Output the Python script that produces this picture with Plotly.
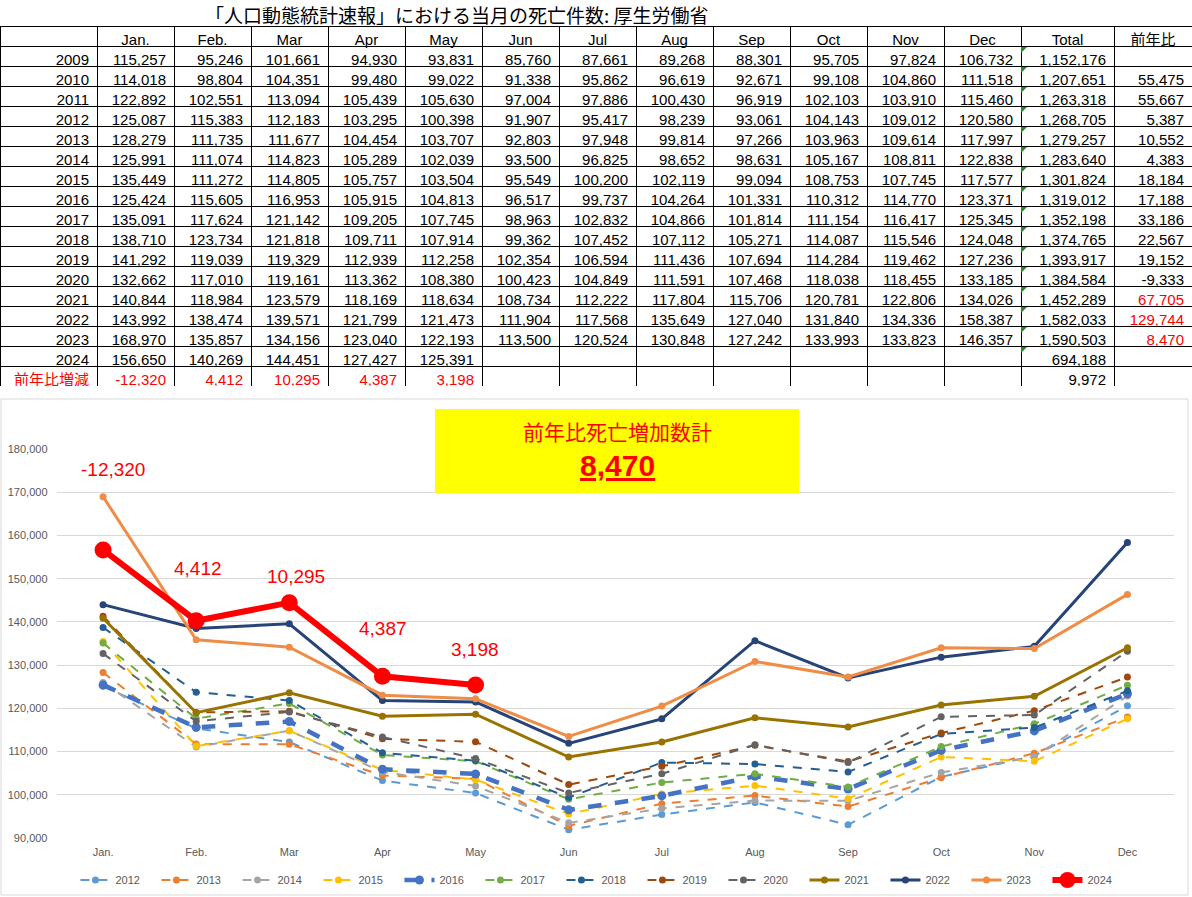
import plotly.graph_objects as go

# monthly deaths, "人口動態統計速報" (厚生労働省)
months = ["Jan.", "Feb.", "Mar", "Apr", "May", "Jun", "Jul", "Aug", "Sep", "Oct", "Nov", "Dec"]
years = list(range(2009, 2025))

d2009 = [115257, 95246, 101661, 94930, 93831, 85760, 87661, 89268, 88301, 95705, 97824, 106732]
d2010 = [114018, 98804, 104351, 99480, 99022, 91338, 95862, 96619, 92671, 99108, 104860, 111518]
d2011 = [122892, 102551, 113094, 105439, 105630, 97004, 97886, 100430, 96919, 102103, 103910, 115460]
d2012 = [125087, 115383, 112183, 103295, 100398, 91907, 95417, 98239, 93061, 104143, 109012, 120580]
d2013 = [128279, 111735, 111677, 104454, 103707, 92803, 97948, 99814, 97266, 103963, 109614, 117997]
d2014 = [125991, 111074, 114823, 105289, 102039, 93500, 96825, 98652, 98631, 105167, 108811, 122838]
d2015 = [135449, 111272, 114805, 105757, 103504, 95549, 100200, 102119, 99094, 108753, 107745, 117577]
d2016 = [125424, 115605, 116953, 105915, 104813, 96517, 99737, 104264, 101331, 110312, 114770, 123371]
d2017 = [135091, 117624, 121142, 109205, 107745, 98963, 102832, 104866, 101814, 111154, 116417, 125345]
d2018 = [138710, 123734, 121818, 109711, 107914, 99362, 107452, 107112, 105271, 114087, 115546, 124048]
d2019 = [141292, 119039, 119329, 112939, 112258, 102354, 106594, 111436, 107694, 114284, 119462, 127236]
d2020 = [132662, 117010, 119161, 113362, 108380, 100423, 104849, 111591, 107468, 118038, 118455, 133185]
d2021 = [140844, 118984, 123579, 118169, 118634, 108734, 112222, 117804, 115706, 120781, 122806, 134026]
d2022 = [143992, 138474, 139571, 121799, 121473, 111904, 117568, 135649, 127040, 131840, 134336, 158387]
d2023 = [168970, 135857, 134156, 123040, 122193, 113500, 120524, 130848, 127242, 133993, 133823, 146357]
d2024 = [156650, 140269, 144451, 127427, 125391]

totals = [1152176, 1207651, 1263318, 1268705, 1279257, 1283640, 1301824, 1319012,
          1352198, 1374765, 1393917, 1384584, 1452289, 1582033, 1590503, 694188]
yoy = [None, 55475, 55667, 5387, 10552, 4383, 18184, 17188,
       33186, 22567, 19152, -9333, 67705, 129744, 8470, None]
diff_2024 = [-12320, 4412, 10295, 4387, 3198]
diff_total = 9972
yoy_2023 = 8470

rows = [d2009, d2010, d2011, d2012, d2013, d2014, d2015, d2016,
        d2017, d2018, d2019, d2020, d2021, d2022, d2023, d2024]

W, H = 1192, 897
RED = "#FF0000"
ROW_H = 20
TABLE_TOP = 26


def fmt(v):
    return "" if v is None else f"{v:,}"


def py(px):
    return 1 - px / H


def pxx(px):
    return px / W


# ---------- table ----------
label_col = [str(y) for y in years] + ["前年比増減"]
month_cols = []
for m in range(12):
    col = [fmt(r[m]) if m < len(r) else "" for r in rows]
    col.append(fmt(diff_2024[m]) if m < len(diff_2024) else "")
    month_cols.append(col)
total_col = [fmt(t) for t in totals] + [fmt(diff_total)]
yoy_col = [fmt(v) for v in yoy] + [""]

n = len(label_col)
black_col = ["black"] * n
last_red = ["black"] * (n - 1) + [RED]
yoy_colors = ["black"] * n
for i, y in enumerate(years):
    if y in (2021, 2022, 2023):
        yoy_colors[i] = RED

fig = go.Figure()

fig.add_trace(go.Table(
    domain=dict(x=[0, 1], y=[py(TABLE_TOP + ROW_H * (n + 1) + 1), py(TABLE_TOP)]),
    columnwidth=[97] + [77] * 12 + [93, 78],
    header=dict(
        values=[""] + months + ["Total", "前年比"],
        align="center",
        height=ROW_H,
        fill_color="white",
        line=dict(color="black", width=1),
        font=dict(family="Liberation Sans, Noto Sans CJK JP", size=15, color="black"),
    ),
    cells=dict(
        values=[label_col] + month_cols + [total_col, yoy_col],
        align="right",
        height=ROW_H,
        fill_color="white",
        line=dict(color="black", width=1),
        font=dict(family="Liberation Sans, Noto Sans CJK JP", size=15,
                  color=[last_red] + [last_red] * 12 + [black_col, yoy_colors]),
    ),
))

# little green corner marks of the Total column
for i in range(len(totals)):
    top = TABLE_TOP + ROW_H * (i + 1) + 1
    fig.add_shape(type="path", xref="paper", yref="paper",
                  path=f"M {pxx(1021)},{py(top)} L {pxx(1027)},{py(top)} L {pxx(1021)},{py(top + 6)} Z",
                  fillcolor="#1E8C1E", line=dict(width=0), layer="above")

# ---------- line chart ----------
chart_years = list(range(2012, 2025))
styles = {
    2012: ("#5B9BD5", "dash", 2, 7),
    2013: ("#ED7D31", "dash", 2, 7),
    2014: ("#A5A5A5", "dash", 2, 7),
    2015: ("#FFC000", "dash", 2, 7),
    2016: ("#4472C4", "dash", 4.5, 9),
    2017: ("#70AD47", "dash", 2, 7),
    2018: ("#255E91", "dash", 2, 7),
    2019: ("#9E480E", "dash", 2, 7),
    2020: ("#636363", "dash", 2, 7),
    2021: ("#997300", "solid", 3, 7),
    2022: ("#264478", "solid", 3, 7),
    2023: ("#EF8C45", "solid", 3, 7),
    2024: (RED, "solid", 6, 17),
}

for y in chart_years:
    vals = rows[years.index(y)]
    color, dash, width, msize = styles[y]
    fig.add_trace(go.Scatter(
        x=months[:len(vals)], y=vals, name=str(y),
        mode="lines+markers",
        line=dict(color=color, dash=dash, width=width),
        marker=dict(color=color, size=msize, symbol="circle"),
        xaxis="x", yaxis="y",
    ))

# 前年比増減 labels above the 2024 points
label_shift = [(10, 80), (2, 52), (7, 26), (1, 48), (-1, 36)]
for i, v in enumerate(diff_2024):
    dx, dy = label_shift[i]
    fig.add_annotation(
        x=months[i], y=d2024[i], xref="x", yref="y",
        text=f"{v:,}", showarrow=False, xshift=dx, yshift=dy,
        yanchor="middle", xanchor="center",
        font=dict(family="Liberation Sans", size=19, color=RED),
    )

# yellow summary box
fig.add_shape(type="rect", xref="paper", yref="paper",
              x0=pxx(435), x1=pxx(799), y0=py(493), y1=py(409),
              fillcolor="#FFFF00", line=dict(width=0), layer="above")
fig.add_annotation(xref="paper", yref="paper", x=pxx(617), y=py(431),
                   text="前年比死亡増加数計", showarrow=False,
                   yanchor="middle", xanchor="center",
                   font=dict(family="Noto Sans CJK JP", size=21, color=RED))
fig.add_annotation(xref="paper", yref="paper", x=pxx(617), y=py(466),
                   text=f"<b><u>{yoy_2023:,}</u></b>", showarrow=False,
                   yanchor="middle", xanchor="center",
                   font=dict(family="Liberation Sans", size=30, color=RED))

# chart border
fig.add_shape(type="rect", xref="paper", yref="paper",
              x0=pxx(1), x1=pxx(1188), y0=py(895), y1=py(399),
              line=dict(color="#D9D9D9", width=1), layer="below")

# page title
fig.add_annotation(xref="paper", yref="paper", x=pxx(457), y=py(14),
                   text="「人口動態統計速報」における当月の死亡件数: 厚生労働省",
                   showarrow=False, yanchor="middle", xanchor="center",
                   font=dict(family="Noto Sans CJK JP", size=19, color="black"))

fig.update_layout(
    width=W, height=H,
    margin=dict(l=0, r=0, t=0, b=0),
    paper_bgcolor="white", plot_bgcolor="white",
    xaxis=dict(domain=[pxx(56.5), pxx(1174)], type="category",
               range=[-0.5, 11.5], showgrid=False, showline=False,
               ticks="", automargin=False, ticklabelstandoff=6,
               tickfont=dict(family="Liberation Sans", size=11, color="#595959")),
    yaxis=dict(domain=[py(838), py(449)], range=[90000, 180000], dtick=10000,
               tickformat=",", showgrid=True, gridcolor="#D9D9D9", gridwidth=1,
               zeroline=False, showline=False, automargin=False, ticklabelstandoff=8,
               tickfont=dict(family="Liberation Sans", size=11, color="#595959")),
    legend=dict(orientation="h", x=0.505, xanchor="center", y=py(880), yanchor="middle",
                font=dict(family="Liberation Sans", size=11, color="#595959"),
                entrywidth=36, entrywidthmode="pixels",
                bgcolor="rgba(0,0,0,0)"),
    showlegend=True,
)

# the page body has a default 8px margin; drop it so the figure sits at the window origin
fig.write_html("out.html", config={"displayModeBar": False},
               post_script="document.body.style.margin='0';")
